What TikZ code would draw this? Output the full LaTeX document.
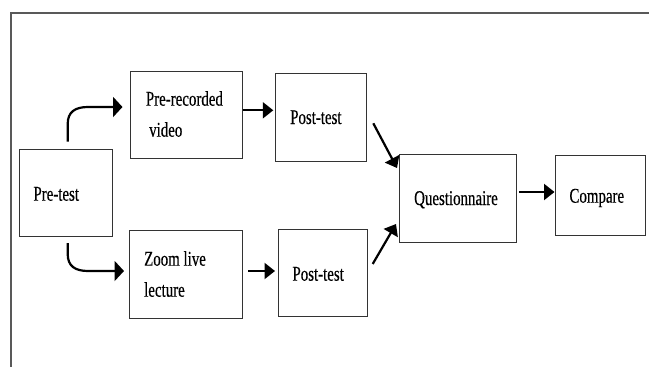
\documentclass[tikz,border=0pt]{standalone}
\usepackage{fontspec}
\setmainfont[FakeStretch=0.71,FakeBold=0.35]{Liberation Serif}
\usetikzlibrary{arrows.meta}
\begin{document}
\begin{tikzpicture}[x=1pt,y=-1pt,
  box/.style={draw=black!80,line width=1pt,rectangle,anchor=north west,inner sep=0pt},
  lbl/.style={anchor=base west,inner sep=0pt,font=\fontsize{21}{31}\selectfont},
  arr/.style={line width=2.2pt,-{Triangle[length=10.5pt,width=16pt]}},
  carr/.style={line width=2.2pt,-{Triangle[length=9.5pt,width=20pt]}},
  frame/.style={draw=black!65,line width=1.2pt}]
\useasboundingbox (0,0) rectangle (649,367);
% frame
\coordinate (ftl) at (11,13);
\coordinate (ftr) at (649,13);
\coordinate (fbl) at (11,367);
\draw[frame] (ftr) -- (ftl) -- (fbl);
% boxes
\node[box,minimum width=93pt,minimum height=87pt] (pre) at (19,149) {};
\node[box,minimum width=112pt,minimum height=87pt] (prv) at (130,71) {};
\node[box,minimum width=90.5pt,minimum height=88pt] (pt1) at (275,73) {};
\node[box,minimum width=113pt,minimum height=88pt] (zll) at (129,230) {};
\node[box,minimum width=89pt,minimum height=87pt] (pt2) at (278,229) {};
\node[box,minimum width=117pt,minimum height=88pt] (que) at (399,154) {};
\node[box,minimum width=90pt,minimum height=80pt] (cmp) at (555,155) {};
% labels
\node[lbl] (tpre) at (33.3,200.7) {Pre-test};
\node[lbl] (tprv1) at (145.7,105.7) {Pre-recorded};
\node[lbl] (tprv2) at (149,136.7) {video};
\node[lbl] (tpt1) at (290,124) {Post-test};
\node[lbl] (tzll1) at (144,265.7) {Zoom live};
\node[lbl] (tzll2) at (144,296.7) {lecture};
\node[lbl] (tpt2) at (292.3,280.7) {Post-test};
\node[lbl] (tque) at (414,205) {Questionnaire};
\node[lbl] (tcmp) at (569.3,202.7) {Compare};
% arrow end points
\coordinate (a1s) at (67.7,141.5);
\coordinate (a1e) at (122.5,107);
\coordinate (a2s) at (67.7,243);
\coordinate (a2e) at (124,271);
\coordinate (a3s) at (243.3,110.3);
\coordinate (a3e) at (273.3,110.3);
\coordinate (a4s) at (248,271);
\coordinate (a4e) at (275,271);
\coordinate (a5s) at (373.3,123.3);
\coordinate (a5e) at (397,168);
\coordinate (a6s) at (372.7,264);
\coordinate (a6e) at (396,224);
\coordinate (a7s) at (519,192);
\coordinate (a7e) at (554.5,192);
% arrows
\draw[carr] (a1s) -- (67.7,124) .. controls (67.7,112) and (75,107) .. (88,107) -- (a1e);
\draw[carr] (a2s) -- (67.7,254) .. controls (67.7,266) and (75,271) .. (88,271) -- (a2e);
\draw[arr] (a3s) -- (a3e);
\draw[arr] (a4s) -- (a4e);
\draw[arr] (a5s) -- (a5e);
\draw[arr] (a6s) -- (a6e);
\draw[arr] (a7s) -- (a7e);
\end{tikzpicture}
\end{document}
